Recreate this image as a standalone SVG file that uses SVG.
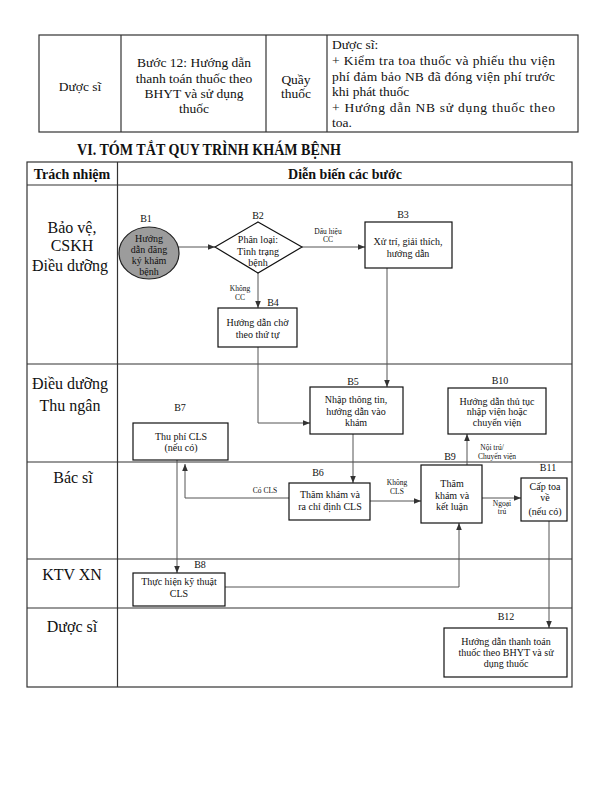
<svg xmlns="http://www.w3.org/2000/svg" width="589" height="810" viewBox="0 0 589 810">
<defs>
<style>
text{font-family:"Liberation Serif","Times New Roman",serif;fill:#111}
.tb{fill:none;stroke:#333;stroke-width:1.2}
.t14{font-size:13.5px}
.lane{font-size:16px;text-anchor:middle}
.hd{font-size:14px;font-weight:bold;text-anchor:middle}
.box{fill:#fff;stroke:#111;stroke-width:1.2}
.nt{font-size:10px;text-anchor:middle}
.sl{font-size:10px;text-anchor:middle}
.cl{font-size:7.5px;text-anchor:middle}
.c{fill:none;stroke:#555;stroke-width:1}
</style>
<marker id="ah" viewBox="0 0 8 8" refX="8" refY="4" markerWidth="7" markerHeight="7" markerUnits="userSpaceOnUse" orient="auto">
<path d="M0,0.8 L8,4 L0,7.2 Z" fill="#333"/>
</marker>
</defs>
<rect width="589" height="810" fill="#fff"/>

<g id="top-table">
<rect class="tb" x="39" y="35" width="539" height="97"/>
<line class="tb" x1="121" y1="35" x2="121" y2="132"/>
<line class="tb" x1="266" y1="35" x2="266" y2="132"/>
<line class="tb" x1="327" y1="35" x2="327" y2="132"/>
<text class="t14" x="80" y="91" text-anchor="middle">Dược sĩ</text>
<text class="t14" text-anchor="middle"><tspan x="194" y="67">Bước 12: Hướng dẫn</tspan><tspan x="194" y="82.5">thanh toán thuốc theo</tspan><tspan x="194" y="98">BHYT và sử dụng</tspan><tspan x="194" y="113">thuốc</tspan></text>
<text class="t14" text-anchor="middle"><tspan x="296" y="84">Quầy</tspan><tspan x="296" y="98">thuốc</tspan></text>
<text class="t14" x="332" y="49">Dược sĩ:</text>
<text class="t14" x="332" y="65" textLength="223" lengthAdjust="spacing">+ Kiểm tra toa thuốc và phiếu thu viện</text>
<text class="t14" x="332" y="80.5" textLength="223" lengthAdjust="spacing">phí đảm bảo NB đã đóng viện phí trước</text>
<text class="t14" x="332" y="96">khi phát thuốc</text>
<text class="t14" x="332" y="111.5" textLength="223" lengthAdjust="spacing">+ Hướng dẫn NB sử dụng thuốc theo</text>
<text class="t14" x="332" y="127">toa.</text>
</g>

<text x="77" y="155" font-size="16" font-weight="bold" textLength="264" lengthAdjust="spacingAndGlyphs">VI. TÓM TẮT QUY TRÌNH KHÁM BỆNH</text>

<g id="flow-table">
<rect class="tb" x="27" y="162" width="545" height="525"/>
<line class="tb" x1="117.5" y1="162" x2="117.5" y2="687"/>
<line class="tb" x1="27" y1="185" x2="572" y2="185"/>
<line class="tb" x1="27" y1="364" x2="572" y2="364"/>
<line class="tb" x1="27" y1="462" x2="572" y2="462"/>
<line class="tb" x1="27" y1="559" x2="572" y2="559"/>
<line class="tb" x1="27" y1="608" x2="572" y2="608"/>
<text class="hd" x="72" y="179">Trách nhiệm</text>
<text class="hd" x="345" y="179">Diễn biến các bước</text>
<text class="lane"><tspan x="72" y="233">Bảo vệ,</tspan><tspan x="72" y="251">CSKH</tspan><tspan x="70" y="271">Điều dưỡng</tspan></text>
<text class="lane"><tspan x="70" y="389">Điều dưỡng</tspan><tspan x="70" y="411">Thu ngân</tspan></text>
<text class="lane" x="73" y="483">Bác sĩ</text>
<text class="lane" x="72" y="580">KTV XN</text>
<text class="lane" x="72" y="632">Dược sĩ</text>
</g>

<g id="connectors">
<path class="c" d="M178,247 L215,247" marker-end="url(#ah)"/>
<path class="c" d="M302,247 L365,247" marker-end="url(#ah)"/>
<path class="c" d="M258,273 L258,308" marker-end="url(#ah)"/>
<path class="c" d="M258,347 L258,423 L310,423" marker-end="url(#ah)"/>
<path class="c" d="M387,268 L387,387" marker-end="url(#ah)"/>
<path class="c" d="M353,434 L353,483" marker-end="url(#ah)"/>
<path class="c" d="M289,498 L185,498 L185,464" marker-end="url(#ah)"/>
<path class="c" d="M177,460 L177,573" marker-end="url(#ah)"/>
<path class="c" d="M370,501 L421,501" marker-end="url(#ah)"/>
<path class="c" d="M225,587 L459,587 L459,523" marker-end="url(#ah)"/>
<path class="c" d="M467,465 L467,434" marker-end="url(#ah)"/>
<path class="c" d="M482,498 L521,498" marker-end="url(#ah)"/>
<path class="c" d="M549,521 L549,628" marker-end="url(#ah)"/>
<text class="cl"><tspan x="328" y="234">Dấu hiệu</tspan><tspan x="328" y="242">CC</tspan></text>
<text class="cl"><tspan x="240" y="291">Không</tspan><tspan x="240" y="299.5">CC</tspan></text>
<text class="cl" x="265" y="493">Có CLS</text>
<text class="cl"><tspan x="397" y="485">Không</tspan><tspan x="397" y="493.5">CLS</tspan></text>
<text class="cl"><tspan x="502" y="506">Ngoại</tspan><tspan x="502" y="514">trú</tspan></text>
<text class="cl"><tspan x="492" y="450">Nội trú/</tspan><tspan x="497" y="459">Chuyển viện</tspan></text>
</g>

<g id="B1">
<text class="sl" x="146" y="222">B1</text>
<ellipse cx="149" cy="253" rx="30" ry="26" fill="#9c9c9c" stroke="#222" stroke-width="1.2"/>
<text class="nt" style="font-size:10px"><tspan x="149" y="241.5">Hướng</tspan><tspan x="149" y="252.5">dẫn đăng</tspan><tspan x="149" y="263.5">ký khám</tspan><tspan x="149" y="274.5">bệnh</tspan></text>
</g>
<g id="B2">
<text class="sl" x="258" y="219">B2</text>
<polygon class="box" points="258,222 302,247 258,273 215,247"/>
<text class="nt"><tspan x="258" y="243">Phân loại:</tspan><tspan x="258" y="255">Tình trạng</tspan><tspan x="258" y="266">bệnh</tspan></text>
</g>
<g id="B3">
<text class="sl" x="403" y="218">B3</text>
<rect class="box" x="365" y="222" width="87" height="46"/>
<text class="nt"><tspan x="408" y="245">Xử trí, giải thích,</tspan><tspan x="408" y="257">hướng dẫn</tspan></text>
</g>
<g id="B4">
<text class="sl" x="273" y="306">B4</text>
<rect class="box" x="218" y="308" width="79" height="39"/>
<text class="nt"><tspan x="257.5" y="326">Hướng dẫn chờ</tspan><tspan x="257.5" y="338">theo thứ tự</tspan></text>
</g>
<g id="B5">
<text class="sl" x="353" y="385">B5</text>
<rect class="box" x="310" y="387" width="93" height="47"/>
<text class="nt"><tspan x="356" y="403">Nhập thông tin,</tspan><tspan x="356" y="415">hướng dẫn vào</tspan><tspan x="356" y="426">khám</tspan></text>
</g>
<g id="B10">
<text class="sl" x="500" y="384">B10</text>
<rect class="box" x="448" y="388" width="98" height="46"/>
<text class="nt"><tspan x="497" y="405">Hướng dẫn thủ tục</tspan><tspan x="497" y="415">nhập viện hoặc</tspan><tspan x="497" y="426">chuyển viện</tspan></text>
</g>
<g id="B7">
<text class="sl" x="180" y="411">B7</text>
<rect class="box" x="133" y="423" width="95" height="37"/>
<text class="nt"><tspan x="181" y="440">Thu phí CLS</tspan><tspan x="181" y="451">(nếu có)</tspan></text>
</g>
<g id="B6">
<text class="sl" x="318" y="476">B6</text>
<rect class="box" x="289" y="483" width="81" height="37"/>
<text class="nt"><tspan x="330" y="498">Thăm khám và</tspan><tspan x="330" y="510">ra chỉ định CLS</tspan></text>
</g>
<g id="B9">
<text class="sl" x="450" y="460">B9</text>
<rect class="box" x="421" y="465" width="61" height="58"/>
<text class="nt"><tspan x="452" y="487">Thăm</tspan><tspan x="452" y="499">khám và</tspan><tspan x="452" y="510">kết luận</tspan></text>
</g>
<g id="B11">
<text class="sl" x="548" y="471">B11</text>
<rect class="box" x="521" y="478" width="46" height="43"/>
<text class="nt"><tspan x="545" y="490">Cấp toa</tspan><tspan x="545" y="501">về</tspan><tspan x="545" y="515">(nếu có)</tspan></text>
</g>
<g id="B8">
<text class="sl" x="200" y="568">B8</text>
<rect class="box" x="133" y="573" width="92" height="33"/>
<text class="nt"><tspan x="179" y="585">Thực hiện kỹ thuật</tspan><tspan x="179" y="597">CLS</tspan></text>
</g>
<g id="B12">
<text class="sl" x="506" y="620">B12</text>
<rect class="box" x="444" y="628" width="123" height="49"/>
<text class="nt"><tspan x="506" y="645">Hướng dẫn thanh toán</tspan><tspan x="506" y="656">thuốc theo BHYT và sử</tspan><tspan x="506" y="667">dụng thuốc</tspan></text>
</g>
</svg>
